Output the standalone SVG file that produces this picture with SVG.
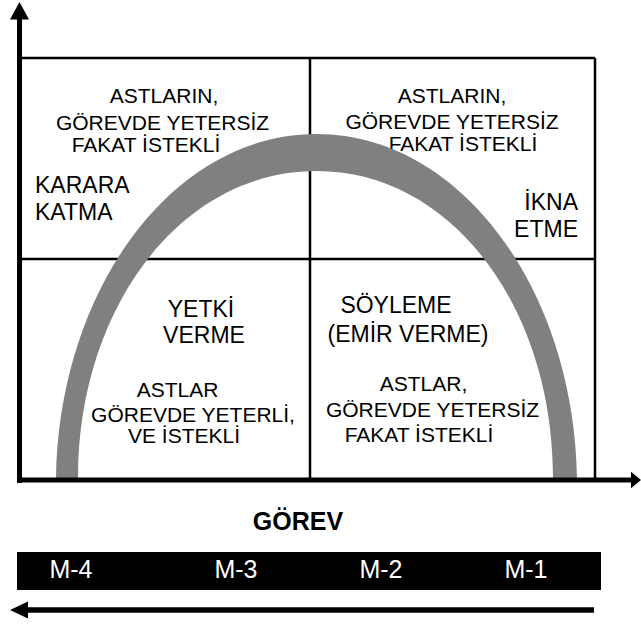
<svg xmlns="http://www.w3.org/2000/svg" width="641" height="624" viewBox="0 0 641 624">
<style>
.t{font-family:"Liberation Sans",Arial,sans-serif;fill:#000;text-anchor:middle}
.s{font-size:21px}
.b{font-size:23px}
.m{font-family:"Liberation Sans",Arial,sans-serif;font-size:25px;fill:#fff;text-anchor:middle}
.g{stroke:#000;stroke-width:2.5;fill:none}
.ax{stroke:#000;stroke-width:5;fill:none}
</style>
<rect width="641" height="624" fill="#fff"/>
<g id="grid">
<line class="g" x1="20" y1="58" x2="595" y2="58"/>
<line class="g" x1="20" y1="259" x2="595" y2="259"/>
<line class="g" x1="310" y1="58" x2="310" y2="480"/>
<line class="g" x1="595" y1="58" x2="595" y2="480"/>
</g>
<g id="q-top-left">
<text class="t s" x="164" y="103">ASTLARIN,</text>
<text class="t s" x="162.5" y="130">GÖREVDE YETERSİZ</text>
<text class="t s" x="146" y="152">FAKAT İSTEKLİ</text>
<text class="t b" x="35" y="193" style="text-anchor:start">KARARA</text>
<text class="t b" x="35" y="220" style="text-anchor:start">KATMA</text>
</g>
<g id="q-top-right">
<text class="t s" x="452" y="103">ASTLARIN,</text>
<text class="t s" x="452" y="129">GÖREVDE YETERSİZ</text>
<text class="t s" x="463" y="151">FAKAT İSTEKLİ</text>
<text class="t b" x="578" y="210" style="text-anchor:end">İKNA</text>
<text class="t b" x="578" y="237" style="text-anchor:end">ETME</text>
</g>
<g id="q-bottom-left">
<text class="t b" x="201" y="317">YETKİ</text>
<text class="t b" x="204" y="343">VERME</text>
<text class="t s" x="177.5" y="397">ASTLAR</text>
<text class="t s" x="193" y="422">GÖREVDE YETERLİ,</text>
<text class="t s" x="184" y="443">VE İSTEKLİ</text>
</g>
<g id="q-bottom-right">
<text class="t b" x="396" y="313">SÖYLEME</text>
<text class="t b" x="408" y="342">(EMİR VERME)</text>
<text class="t s" x="423.5" y="391">ASTLAR,</text>
<text class="t s" x="432.5" y="417">GÖREVDE YETERSİZ</text>
<text class="t s" x="419" y="442">FAKAT İSTEKLİ</text>
</g>
<g id="arc">
<path fill="#808080" d="M56,478 C59,290 172,134 316.5,134 C461,134 574,290 577,478 L553,478 C553,308 452,171 316.5,171 C181,171 78,308 78,478 Z"/>
</g>
<g id="axes">
<line class="ax" x1="19.5" y1="483" x2="19.5" y2="18"/>
<polygon points="19.5,2 29,19.5 10,19.5" fill="#000"/>
<line class="ax" x1="17" y1="480" x2="632" y2="480"/>
<polygon points="641,480 631,471.7 631,488.3" fill="#000"/>
</g>
<g id="label-gorev">
<text class="t" x="298" y="530" style="font-size:25px;font-weight:bold">GÖREV</text>
</g>
<g id="bar">
<rect x="17" y="552" width="584" height="38" fill="#000"/>
<text class="m" x="71" y="578">M-4</text>
<text class="m" x="236" y="578">M-3</text>
<text class="m" x="381" y="578">M-2</text>
<text class="m" x="526" y="578">M-1</text>
</g>
<g id="connectors">
<line x1="27" y1="610" x2="594" y2="610" stroke="#000" stroke-width="5.5"/>
<polygon points="10,610 28,601.5 28,618.5" fill="#000"/>
</g>
</svg>
